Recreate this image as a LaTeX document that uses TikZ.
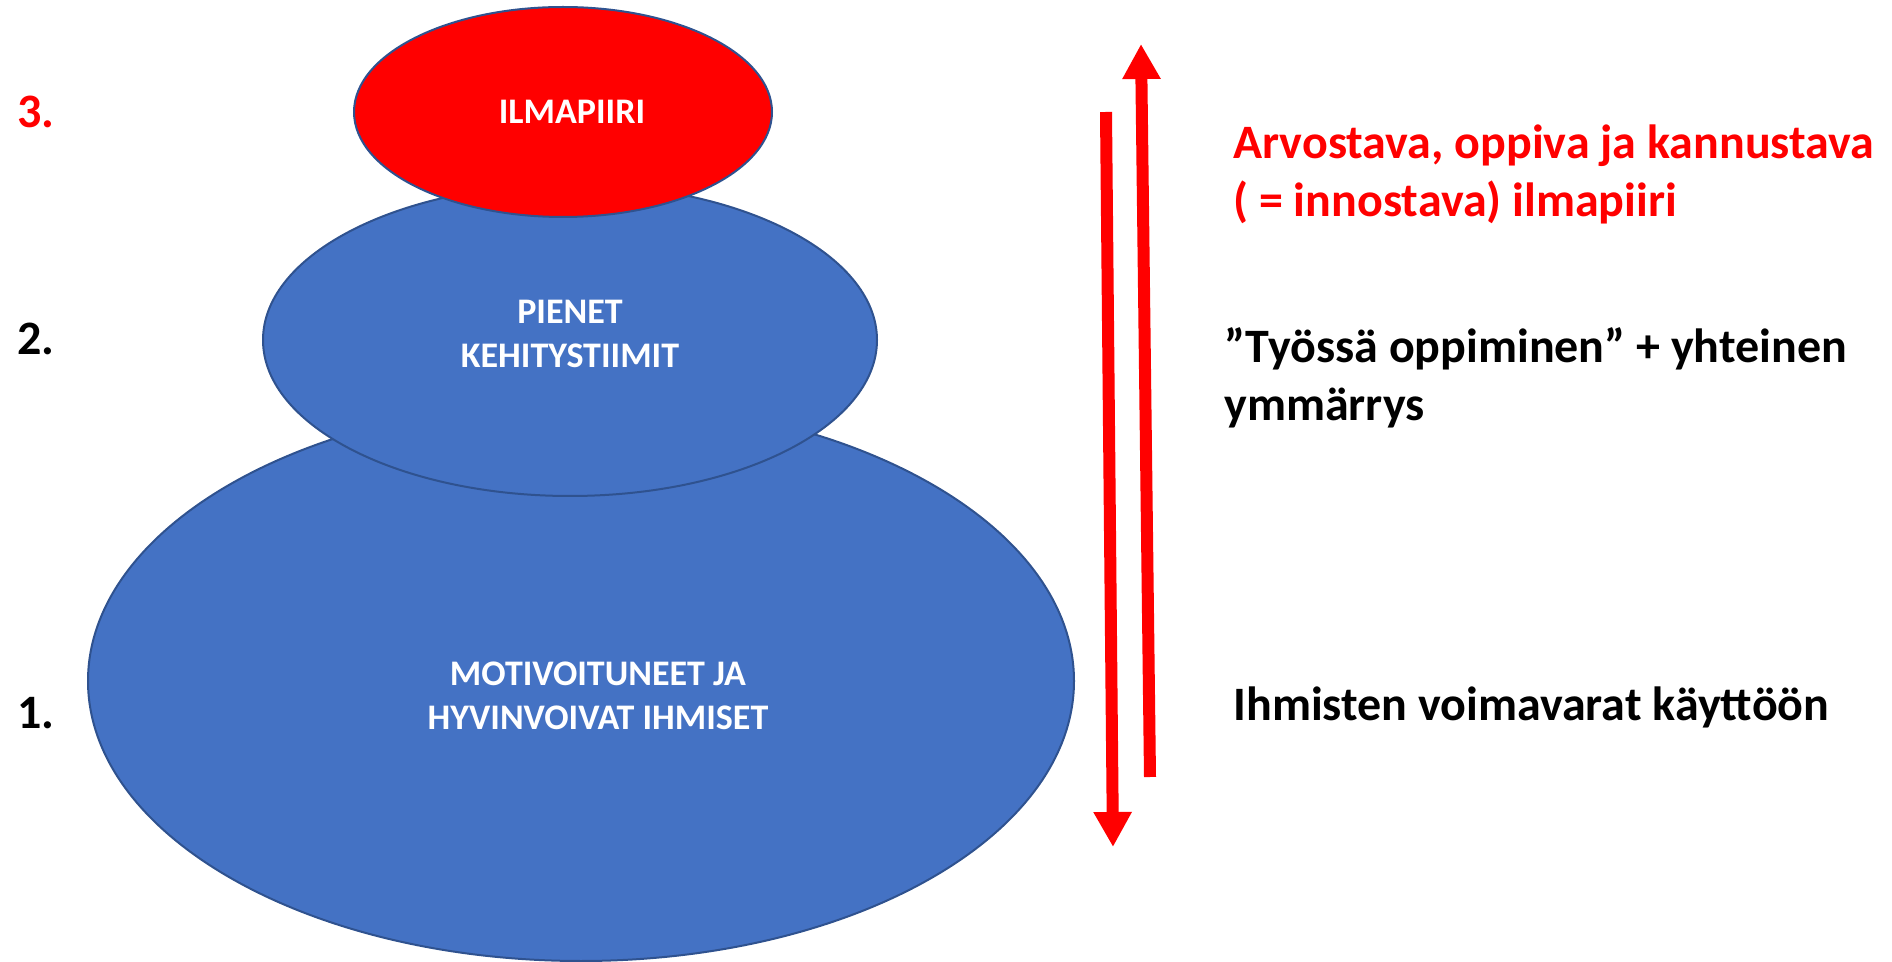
\documentclass[tikz,border=0pt]{standalone}
\usepackage{fontspec}
\setmainfont{Carlito}
\usetikzlibrary{arrows.meta,shapes.geometric}
\definecolor{blobblue}{HTML}{4472C4}
\definecolor{blobline}{HTML}{2F528F}
\definecolor{hotred}{HTML}{FF0000}
\tikzset{
  blob/.style={ellipse, draw=blobline, line width=1pt, inner sep=0pt},
  intext/.style={text=white, font=\bfseries\fontsize{18}{22}\selectfont, inner sep=0pt, align=center, anchor=base},
  numtext/.style={font=\bfseries\fontsize{24}{29}\selectfont, inner sep=0pt, anchor=base west},
  sidetext/.style={font=\bfseries\fontsize{24}{29}\selectfont, inner sep=0pt, anchor=base west, align=left},
  flow/.style={hotred, line width=6pt, -{Triangle[width=18pt,length=17.5pt]}}
}
\begin{document}
\begin{tikzpicture}[x=0.5pt,y=-0.5pt]
\useasboundingbox (0,0) rectangle (1892,962);
% ellipses
\node[blob, fill=blobblue, minimum width=493pt, minimum height=280pt] (base) at (581,681) {};
\node[blob, fill=blobblue, minimum width=307pt, minimum height=156pt] (mid) at (570,340) {};
\node[blob, fill=hotred, minimum width=209pt, minimum height=105pt] (top) at (563,112) {};
% ellipse texts (base = baseline of last line)
\node[intext] (ttop) at (572,124) {ILMAPIIRI};
\node[intext] (tmid) at (570,368) {PIENET\\KEHITYSTIIMIT};
\node[intext] (tbase) at (598,729) {MOTIVOITUNEET JA\\HYVINVOIVAT IHMISET};
% numbers
\node[numtext, text=hotred] (n3) at (17,128) {3.};
\node[numtext] (n2) at (17,355) {2.};
\node[numtext] (n1) at (17,728) {1.};
% side texts
\node[sidetext, text=hotred] (s3) at (1233,217) {Arvostava, oppiva ja kannustava\\( = innostava) ilmapiiri};
\node[sidetext] (s2) at (1224,421) {”Työssä oppiminen” + yhteinen\\ymmärrys};
\node[sidetext] (s1) at (1233,720) {Ihmisten voimavarat käyttöön};
% arrows
\coordinate (dstart) at (1106,112);
\coordinate (dend) at (1113,847);
\coordinate (ustart) at (1150,777);
\coordinate (uend) at (1141,44);
\draw[flow] (dstart) -- (dend);
\draw[flow] (ustart) -- (uend);
\end{tikzpicture}
\end{document}
